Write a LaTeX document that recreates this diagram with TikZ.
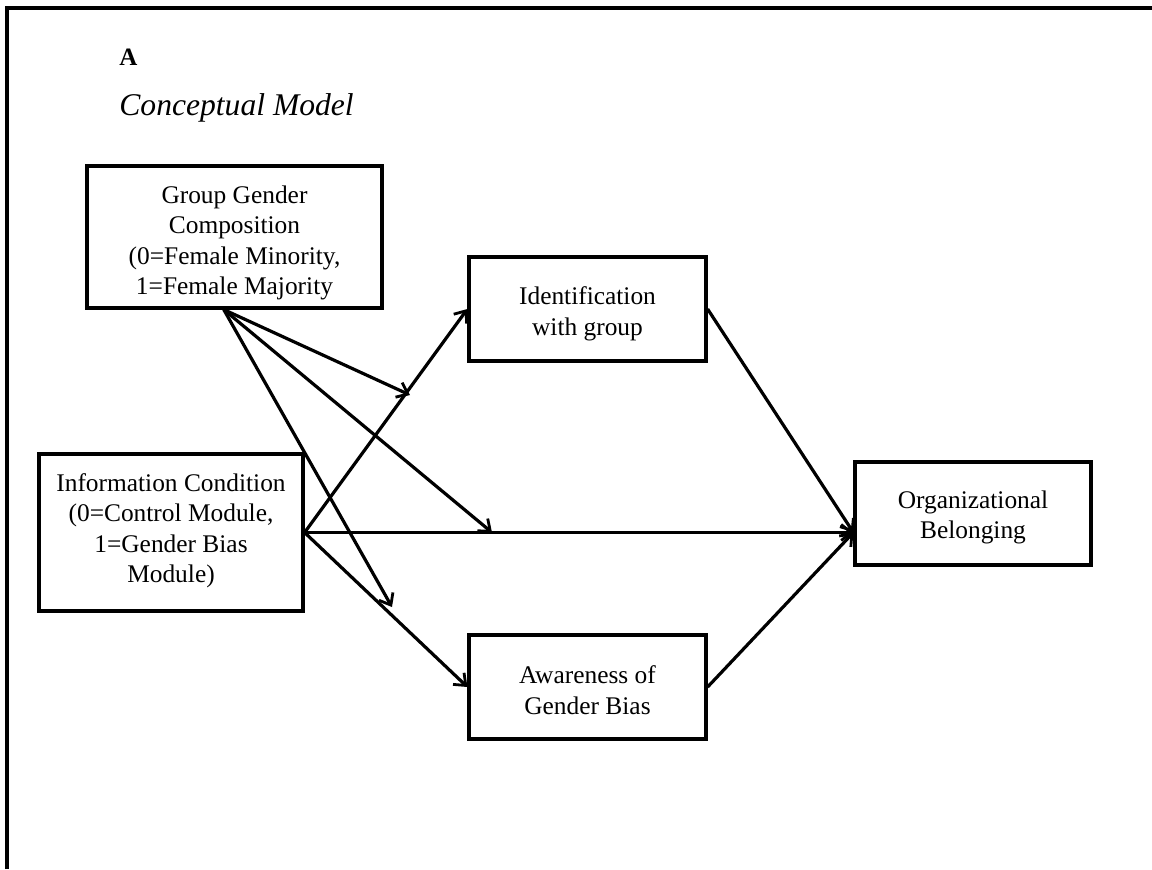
\documentclass[tikz,border=0pt]{standalone}
\usepackage{fontspec}
\setmainfont{Liberation Serif}
\usetikzlibrary{arrows.meta,calc}
\begin{document}
\begin{tikzpicture}[x=0.5pt,y=-0.5pt,
  box/.style={draw, line width=1.6pt, inner sep=0pt},
  txt/.style={align=center, inner sep=0pt, font=\fontsize{12.7}{15.25}\selectfont},
  arr/.style={line width=1.6pt, -{Straight Barb[length=5pt,width=8pt,line width=1.4pt]}},
  ln/.style={line width=1.6pt, line join=miter}]
\useasboundingbox (0,0) rectangle (1152,869);
% frame
\draw[ln] (7,869) -- (7,8) -- (1152,8);
% titles
\node[anchor=base west, inner sep=0pt, font=\bfseries\fontsize{12.5}{15}\selectfont] (lblA) at (119,65) {A};
\node[anchor=base west, inner sep=0pt, font=\itshape\fontsize{15.8}{19}\selectfont] (title) at (119,115) {Conceptual Model};
% boxes
\node[box, minimum width=147.5pt, minimum height=71pt] (ggc) at (234.5,237) {};
\node[txt] (ggct) at ($(ggc.center)+(0,6)$) {Group Gender\\Composition\\(0=Female Minority,\\1=Female Majority};
\node[box, minimum width=132pt, minimum height=78.5pt] (info) at (171,532.5) {};
\node[txt] (infot) at ($(info.center)+(0,-2)$) {Information Condition\\(0=Control Module,\\1=Gender Bias\\Module)};
\node[box, minimum width=118.5pt, minimum height=52pt] (ident) at (587.5,309) {};
\node[txt] (identt) at ($(ident.center)+(0,5)$) {Identification\\with group};
\node[box, minimum width=118.5pt, minimum height=52pt] (aware) at (587.5,687) {};
\node[txt] (awaret) at ($(aware.center)+(0,3)$) {Awareness of\\Gender Bias};
\node[box, minimum width=118pt, minimum height=51.5pt] (org) at (973,513.5) {};
\node[txt] (orgt) at ($(org.center)+(0,4)$) {Organizational\\Belonging};
% helper coordinates
\coordinate (gs) at ($(ggc.south west)!0.464!(ggc.south east)$);
\coordinate (oin) at (info.east -| org.west);
\coordinate (m1) at (410,395);
\coordinate (m2) at (492,532.5);
\coordinate (m3) at (392,607);
% connectors
\draw[arr] (gs) -- (m1);
\draw[arr] (gs) -- (m2);
\draw[arr] (gs) -- (m3);
\draw[arr] (info.east) -- (ident.west);
\draw[arr] (info.east) -- (oin);
\draw[arr] (info.east) -- (aware.west);
\draw[arr] (ident.east) -- (oin);
\draw[arr] (aware.east) -- (oin);
\end{tikzpicture}
\end{document}
